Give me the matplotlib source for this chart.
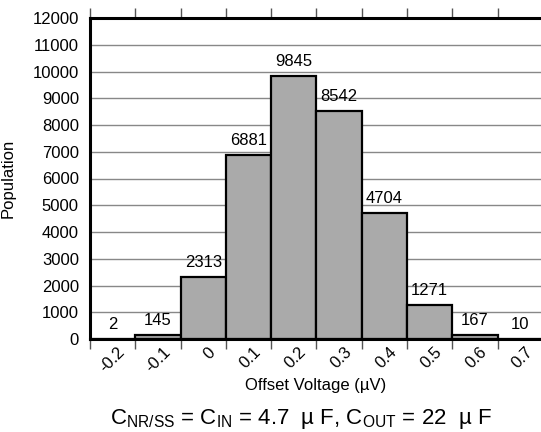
"""Histograma de offset voltage (población por bin)."""
import matplotlib
matplotlib.use("Agg")
import matplotlib.pyplot as plt

plt.rcParams["font.family"] = ["Liberation Sans", "DejaVu Sans"]
plt.rcParams["mathtext.fontset"] = "custom"
plt.rcParams["mathtext.rm"] = "Liberation Sans"

# datos
bin_edges = [-0.2, -0.1, 0.0, 0.1, 0.2, 0.3, 0.4, 0.5, 0.6, 0.7]
counts = [2, 145, 2313, 6881, 9845, 8542, 4704, 1271, 167, 10]
tick_labels = ["-0.2", "-0.1", "0", "0.1", "0.2", "0.3", "0.4", "0.5", "0.6", "0.7"]
bin_width = 0.1
label_shift = 0.06  # las etiquetas rotadas quedan a la derecha del tick

fig = plt.figure(figsize=(5.41, 4.32), dpi=100)
ax = fig.add_axes([90 / 541, 93 / 432, 451 / 541, 321 / 432])

ax.bar(bin_edges, counts, width=bin_width, align="edge",
       color="#aaaaaa", edgecolor="black", linewidth=1.6, zorder=3)
for x, v in zip(bin_edges, counts):
    ax.annotate(f"{v}", (x + bin_width / 2, v), xytext=(0, 5),
                textcoords="offset points", ha="center", va="bottom",
                fontsize=12, zorder=4)

ax.set_xlim(-0.2, 0.7956)
ax.set_ylim(0, 12000)
ax.set_yticks(range(0, 12001, 1000))
ax.set_xticks(bin_edges)
ax.set_xticklabels([])
ax.set_xticks([e + label_shift for e in bin_edges], minor=True)
ax.set_xticklabels(tick_labels, minor=True, rotation=45, ha="right", va="top",
                   rotation_mode="anchor")

ax.tick_params(axis="y", length=0, pad=8, labelsize=12)
ax.tick_params(axis="x", which="major", length=7, width=1, color="#555555",
               top=True, direction="out")
ax.tick_params(axis="x", which="minor", length=0, labelsize=12, pad=4)
ax.yaxis.grid(True, color="#888888", linewidth=1, zorder=0)

for side in ("left", "bottom", "top"):
    ax.spines[side].set_linewidth(2.2)
    ax.spines[side].set_zorder(5)
ax.spines["right"].set_visible(False)

ax.set_xlabel("Offset Voltage (µV)", fontsize=12, labelpad=2)
ax.set_ylabel("Population", fontsize=12, labelpad=12)

fig.text(301 / 541, 8 / 432,
         r"C$_{\rm NR/SS}$ = C$_{\rm IN}$ = 4.7  µ F, C$_{\rm OUT}$ = 22  µ F",
         ha="center", va="baseline", fontsize=16)

fig.savefig("out.png", dpi=100)
